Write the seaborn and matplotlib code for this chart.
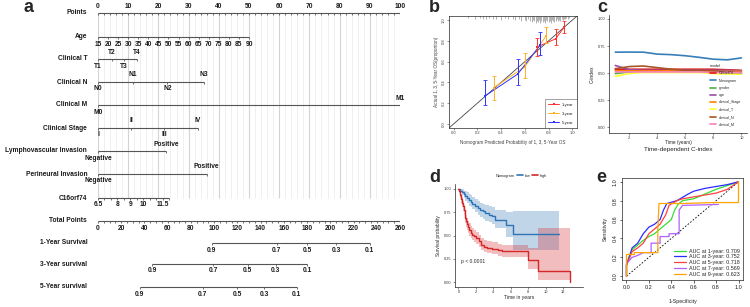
import numpy as np
import pandas as pd
import matplotlib
matplotlib.use("Agg")
import matplotlib.pyplot as plt
from matplotlib.lines import Line2D
import seaborn as sns

W, H = 750, 307

# ---------------- a: nomogram (positions in points, 0-100) ----------------
points_ticks = list(range(0, 101, 10))
age_ticks = list(range(15, 91, 5))
age_max_pts = 50
t_levels = ["T1", "T2", "T3", "T4"]
t_pts = [0, 4.5, 8.6, 13]
n_levels = ["N0", "N1", "N2", "N3"]
n_pts = [0, 11.6, 23, 35]
m_levels = ["M0", "M1"]
m_pts = [0, 100]
stage_levels = ["I", "II", "III", "IV"]
stage_pts = [0, 11, 22, 33]
lvi_levels = ["Negative", "Positive"]
lvi_pts = [0, 22.5]
pni_levels = ["Negative", "Positive"]
pni_pts = [0, 36]
c16_labels = [6.5, 8, 9, 10, 11.5]
c16_ticks = [6.5, 7, 7.5, 8, 8.5, 9, 9.5, 10, 10.5, 11, 11.5, 12]
c16_pts_per_unit = 4.3
total_ticks = list(range(0, 261, 20))
surv_labels = ["0.9", "0.7", "0.5", "0.3", "0.1"]
surv1_total = [98, 154, 180, 205, 234]
surv3_total = [46.5, 99, 129, 153, 180]
surv5_total = [36, 90, 120, 143, 171]

# ---------------- b: calibration ----------------
cal_pred = {"1-year": [0.70, 0.86, 0.93], "3-year": [0.34, 0.60, 0.78], "5-year": [0.265, 0.54, 0.73]}
cal_obs = {"1-year": [0.74, 0.82, 0.93], "3-year": [0.35, 0.55, 0.85], "5-year": [0.27, 0.48, 0.76]}
cal_lo = {"1-year": [0.65, 0.76, 0.88], "3-year": [0.23, 0.44, 0.78], "5-year": [0.18, 0.37, 0.66]}
cal_hi = {"1-year": [0.83, 0.91, 0.99], "3-year": [0.46, 0.68, 0.93], "5-year": [0.42, 0.63, 0.89]}
cal_colors = {"1-year": "#FF3030", "3-year": "#FFB020", "5-year": "#3030FF"}
rug_pred = [0.12, 0.18, 0.22, 0.25, 0.27, 0.30, 0.33, 0.36, 0.40, 0.43, 0.46, 0.50, 0.52,
            0.55, 0.57, 0.60, 0.61, 0.63, 0.64, 0.66, 0.67, 0.68, 0.69, 0.70, 0.71, 0.72,
            0.73, 0.74, 0.75, 0.76, 0.77, 0.78, 0.79, 0.80, 0.81, 0.82, 0.83, 0.84, 0.85,
            0.86, 0.87, 0.88, 0.89, 0.90, 0.91, 0.92, 0.93, 0.94, 0.95, 0.96, 0.97]
rug_len = [0.3, 0.4, 0.3, 0.5, 0.4, 0.3, 0.5, 0.4, 0.6, 0.3, 0.5, 0.4, 0.6, 0.5, 0.7, 0.6,
           0.8, 0.5, 0.7, 0.9, 0.6, 0.8, 1.0, 0.7, 0.9, 0.6, 1.0, 0.8, 0.9, 0.7, 1.0, 0.6,
           0.8, 0.9, 0.7, 1.0, 0.6, 0.8, 0.9, 0.7, 0.5, 0.8, 0.6, 0.7, 0.5, 0.6, 0.4, 0.5,
           0.3, 0.4, 0.3]

# ---------------- c: time-dependent C-index ----------------
cidx_time = [1, 2, 3, 4, 5, 6, 7, 8, 9, 10]
cidx = {
    "C16orf74": [0.535, 0.535, 0.535, 0.535, 0.535, 0.535, 0.535, 0.535, 0.530, 0.525],
    "Nomogram": [0.693, 0.694, 0.693, 0.675, 0.670, 0.660, 0.645, 0.628, 0.622, 0.640],
    "gender": [0.495, 0.510, 0.515, 0.515, 0.515, 0.515, 0.515, 0.510, 0.500, 0.495],
    "age": [0.570, 0.530, 0.525, 0.525, 0.525, 0.525, 0.525, 0.525, 0.525, 0.520],
    "clinical_Stage": [0.520, 0.520, 0.520, 0.520, 0.520, 0.520, 0.518, 0.515, 0.515, 0.515],
    "clinical_T": [0.470, 0.495, 0.505, 0.505, 0.505, 0.505, 0.505, 0.495, 0.490, 0.490],
    "clinical_N": [0.540, 0.560, 0.565, 0.550, 0.535, 0.525, 0.525, 0.520, 0.510, 0.505],
    "clinical_M": [0.510, 0.510, 0.510, 0.510, 0.510, 0.510, 0.510, 0.505, 0.505, 0.505],
}
model_order = list(cidx.keys())

# ---------------- d: Kaplan-Meier ----------------
low_t = [0, 0.2, 0.4, 0.6, 0.8, 1.0, 1.2, 1.4, 1.6, 1.9, 2.2, 2.5, 2.8, 3.1, 3.5, 3.9, 4.2, 5.4, 6.3, 11.6]
low_s = [1.0, 0.98, 0.96, 0.94, 0.92, 0.90, 0.88, 0.86, 0.84, 0.81, 0.79, 0.77, 0.76, 0.74, 0.72, 0.71, 0.67, 0.61, 0.52, 0.52]
low_lo = [1.0, 0.96, 0.93, 0.90, 0.87, 0.85, 0.82, 0.80, 0.78, 0.75, 0.72, 0.70, 0.68, 0.66, 0.64, 0.62, 0.58, 0.48, 0.35, 0.35]
low_hi = [1.0, 1.0, 1.0, 0.98, 0.97, 0.96, 0.94, 0.93, 0.91, 0.89, 0.87, 0.85, 0.84, 0.83, 0.81, 0.80, 0.77, 0.75, 0.76, 0.76]
high_t = [0, 0.1, 0.2, 0.3, 0.4, 0.5, 0.6, 0.7, 0.8, 0.9, 1.0, 1.1, 1.2, 1.4, 1.6, 1.8, 2.0, 2.3, 2.6, 2.9, 3.3, 3.8, 4.5, 5.0, 8.0, 9.1, 12.8]
high_s = [1.0, 0.97, 0.93, 0.89, 0.85, 0.81, 0.77, 0.73, 0.69, 0.65, 0.62, 0.59, 0.56, 0.53, 0.51, 0.49, 0.47, 0.44, 0.40, 0.38, 0.37, 0.36, 0.34, 0.33, 0.24, 0.12, 0.0]
high_lo = [1.0, 0.95, 0.90, 0.85, 0.80, 0.76, 0.72, 0.67, 0.63, 0.59, 0.56, 0.53, 0.50, 0.47, 0.45, 0.43, 0.41, 0.38, 0.34, 0.32, 0.31, 0.30, 0.28, 0.27, 0.14, 0.02, 0.0]
high_hi = [1.0, 0.99, 0.97, 0.94, 0.91, 0.87, 0.83, 0.79, 0.76, 0.72, 0.69, 0.66, 0.63, 0.60, 0.58, 0.56, 0.54, 0.51, 0.47, 0.45, 0.44, 0.43, 0.41, 0.40, 0.37, 0.58, 0.58]
km_colors = {"low": "#2F74B5", "high": "#D62728"}

# ---------------- e: ROC ----------------
roc = {
    "AUC at 1-year: 0.709": ([0, 0, 0.02, 0.05, 0.1, 0.15, 0.2, 0.25, 0.3, 0.35, 0.4, 0.43, 0.46, 0.5, 0.6, 0.7, 0.8, 0.9, 0.95, 1],
                             [0, 0.1, 0.2, 0.28, 0.33, 0.38, 0.42, 0.45, 0.5, 0.55, 0.6, 0.7, 0.76, 0.8, 0.82, 0.87, 0.92, 0.96, 0.98, 1]),
    "AUC at 3-year: 0.752": ([0, 0, 0.03, 0.05, 0.1, 0.15, 0.2, 0.25, 0.3, 0.33, 0.36, 0.45, 0.55, 0.6, 0.7, 0.8, 0.9, 1],
                             [0, 0.12, 0.22, 0.3, 0.35, 0.45, 0.52, 0.55, 0.6, 0.7, 0.77, 0.8, 0.87, 0.9, 0.93, 0.95, 0.97, 1]),
    "AUC at 5-year: 0.718": ([0, 0, 0.03, 0.05, 0.1, 0.15, 0.2, 0.25, 0.3, 0.35, 0.38, 0.45, 0.5, 0.6, 0.7, 0.8, 0.9, 1],
                             [0, 0.13, 0.2, 0.26, 0.3, 0.35, 0.45, 0.5, 0.55, 0.65, 0.75, 0.8, 0.82, 0.84, 0.86, 0.88, 0.92, 1]),
    "AUC at 7-year: 0.569": ([0, 0, 0.05, 0.1, 0.15, 0.22, 0.22, 0.3, 0.3, 0.38, 0.38, 0.47, 0.47, 0.5, 0.82],
                             [0, 0.13, 0.2, 0.22, 0.25, 0.25, 0.35, 0.35, 0.42, 0.42, 0.45, 0.45, 0.7, 0.75, 0.76]),
    "AUC at 9-year: 0.623": ([0, 0, 0.07, 0.07, 0.28, 0.28, 0.29, 0.5, 0.78, 1, 1],
                             [0, 0.23, 0.23, 0.25, 0.25, 0.5, 0.77, 0.77, 0.78, 0.78, 1]),
}
roc_colors = ["#33E033", "#2B2BFF", "#FF4040", "#B060FF", "#FFA500"]

# ---------------- style ----------------
sns.set_style("ticks")
plt.rcParams["font.family"] = ["Liberation Sans", "DejaVu Sans"]
plt.rcParams["axes.linewidth"] = 0.5

fig = plt.figure(figsize=(W / 100, H / 100), dpi=100)


def px_axes(x0, y0, x1, y1):
    return fig.add_axes([x0 / W, 1 - y1 / H, (x1 - x0) / W, (y1 - y0) / H])


def panel_label(x, y, s):
    fig.text(x / W, 1 - y / H, s, fontsize=13, fontweight="bold", ha="center", va="center")


# ---------------- a ----------------
ax = px_axes(98, 0, 400, H)
ax.set_xlim(0, 100)
ax.set_ylim(H, 0)
ax.axis("off")
ax.vlines(np.arange(0, 101, 2), 13, 198, color="#eeeeee", lw=0.6, zorder=0)
ax.vlines(np.arange(0, 101, 10), 13, 198, color="#d4d4d4", lw=0.8, zorder=0)

TXT = dict(fontsize=4.8, fontweight="bold", color="#1a1a1a")
LINE = "#555555"


def nomo_row(name, y, pts, labels, sides, ticks=None):
    ax.text(-3.6, y, name, ha="right", va="center", **TXT)
    tk = pts if ticks is None else ticks
    lo, hi = min(min(pts), min(tk)), max(max(pts), max(tk))
    ax.plot([lo, hi], [y, y], color=LINE, lw=0.8, solid_capstyle="butt")
    ax.vlines(tk, y, y + 1.8, color=LINE, lw=0.6)
    for p, lab, s in zip(pts, labels, sides):
        ax.text(p, y - 7 if s == "up" else y + 7, lab, ha="center", va="center", **TXT)


nomo_row("Points", 13, points_ticks, [str(v) for v in points_ticks], ["up"] * 11,
         ticks=np.arange(0, 101, 2))
age_pts = [(a - age_ticks[0]) / (age_ticks[-1] - age_ticks[0]) * age_max_pts for a in age_ticks]
nomo_row("Age", 37, age_pts, [str(a) for a in age_ticks], ["down"] * len(age_ticks))
nomo_row("Clinical T", 59, t_pts, t_levels, ["down", "up", "down", "up"])
nomo_row("Clinical N", 82, n_pts, n_levels, ["down", "up", "down", "up"])
nomo_row("Clinical M", 105, m_pts, m_levels, ["down", "up"])
nomo_row("Clinical Stage", 128, stage_pts, stage_levels, ["down", "up", "down", "up"])
nomo_row("Lymphovascular Invasion", 151, lvi_pts, lvi_levels, ["down", "up"])
nomo_row("Perineural Invasion", 174, pni_pts, pni_levels, ["down", "up"])
c16_lab_pts = [(v - 6.5) * c16_pts_per_unit for v in c16_labels]
c16_tick_pts = [(v - 6.5) * c16_pts_per_unit for v in c16_ticks]
nomo_row("C16orf74", 198, c16_lab_pts, [f"{v:g}" for v in c16_labels], ["down"] * 5, ticks=c16_tick_pts)
tot_scale = 100 / 260
nomo_row("Total Points", 221, [t * tot_scale for t in total_ticks], [str(t) for t in total_ticks],
         ["down"] * len(total_ticks), ticks=np.arange(0, 261, 5) * tot_scale)
nomo_row("1-Year Survival", 243, [t * tot_scale for t in surv1_total], surv_labels, ["down"] * 5)
nomo_row("3-Year survival", 264, [t * tot_scale for t in surv3_total], surv_labels, ["down"] * 5)
nomo_row("5-Year survival", 287, [t * tot_scale for t in surv5_total], surv_labels, ["down"] * 5)
panel_label(29, 8, "a")

# ---------------- b ----------------
axb = px_axes(449, 16, 577, 128)
axb.axline((0, 0), (1, 1), color="#444444", lw=0.6)
cal_rows = []
for k in cal_pred:
    for p, o in zip(cal_pred[k], cal_obs[k]):
        cal_rows.append({"year": k, "pred": p, "obs": o})
cal_df = pd.DataFrame(cal_rows)
sns.lineplot(data=cal_df, x="pred", y="obs", hue="year", palette=cal_colors, lw=0.7,
             marker="s", markersize=2, markeredgewidth=0, estimator=None, ax=axb)
for k in cal_pred:
    o = np.array(cal_obs[k])
    axb.errorbar(cal_pred[k], o, yerr=[o - np.array(cal_lo[k]), np.array(cal_hi[k]) - o],
                 fmt="none", ecolor=cal_colors[k], elinewidth=0.7, capsize=1.2, capthick=0.6)
axb.vlines(rug_pred, 1.0 - np.array(rug_len) * 0.06, 1.0, transform=axb.get_xaxis_transform(),
           color="#777777", lw=0.4)
axb.set_xlim(-0.04, 1.04)
axb.set_ylim(-0.04, 1.04)
axb.set_xticks([0, 0.2, 0.4, 0.6, 0.8, 1.0])
axb.set_yticks([0, 0.2, 0.4, 0.6, 0.8, 1.0])
axb.set_xticklabels(["0.0", "0.2", "0.4", "0.6", "0.8", "1.0"])
axb.set_yticklabels(["0.0", "0.2", "0.4", "0.6", "0.8", "1.0"], rotation=90, va="center")
axb.tick_params(labelsize=3, colors="#444444", length=1.5, width=0.4, pad=1)
axb.set_xlabel("Nomogram Predicted Probability of 1, 3, 5-Year OS", fontsize=3.3, color="#444444", labelpad=3)
axb.set_ylabel("Actual 1, 3, 5-Year OS(proportion)", fontsize=3.3, color="#444444", labelpad=2)
lg = axb.legend(loc="lower right", fontsize=3, frameon=True, fancybox=False, edgecolor="#333333",
                borderpad=0.8, handlelength=2.5, labelspacing=1.2, borderaxespad=0)
lg.get_frame().set_linewidth(0.4)
panel_label(434, 8, "b")

# ---------------- c ----------------
axc = px_axes(609, 15, 747, 133)
c_df = pd.DataFrame([{"time": t, "cindex": v, "model": m}
                     for m in model_order for t, v in zip(cidx_time, cidx[m])])
sns.lineplot(data=c_df, x="time", y="cindex", hue="model", hue_order=model_order,
             palette="Set1", lw=1.2, estimator=None, ax=axc)
axc.set_xlim(0.55, 10.4)
axc.set_ylim(-0.055, 1.037)
axc.set_xticks([2, 4, 6, 8, 10])
axc.set_yticks([0, 0.25, 0.5, 0.75, 1.0])
axc.set_yticklabels(["0.00", "0.25", "0.50", "0.75", "1.00"])
axc.tick_params(labelsize=2.8, colors="#333333", length=1.5, width=0.4, pad=1)
sns.despine(ax=axc)
axc.set_xlabel("Time (years)", fontsize=3.4, labelpad=0)
axc.set_ylabel("C-index", fontsize=3.6, labelpad=2)
lg = axc.legend(title="model", loc="lower right", bbox_to_anchor=(0.98, 0.03), fontsize=2.6,
                title_fontsize=3, frameon=False, handlelength=1.6, labelspacing=0.9)
for h in lg.get_lines():
    h.set_linewidth(1.2)
lg._legend_box.align = "left"
fig.text(678 / W, 1 - 149.5 / H, "Time-dependent C-index", fontsize=4.5, color="#222222",
         ha="center", va="center")
panel_label(602, 8, "c")

# ---------------- d ----------------
axd = px_axes(455, 184, 583, 287)
km_df = pd.concat([pd.DataFrame({"time": low_t, "surv": low_s, "group": "low"}),
                   pd.DataFrame({"time": high_t, "surv": high_s, "group": "high"})])
axd.fill_between(low_t, low_lo, low_hi, step="post", color=km_colors["low"], alpha=0.3, lw=0)
axd.fill_between(high_t, high_lo, high_hi, step="post", color=km_colors["high"], alpha=0.3, lw=0)
sns.lineplot(data=km_df, x="time", y="surv", hue="group", palette=km_colors, estimator=None,
             drawstyle="steps-post", lw=1.0, legend=False, ax=axd)
axd.set_xlim(-0.4, 14.3)
axd.set_ylim(-0.05, 1.05)
axd.set_xticks([0, 2, 4, 6, 8, 10, 12])
axd.set_yticks([0, 0.25, 0.5, 0.75, 1.0])
axd.set_yticklabels(["0.00", "0.25", "0.50", "0.75", "1.00"])
axd.tick_params(labelsize=2.8, colors="#333333", length=1.5, width=0.4, pad=1)
sns.despine(ax=axd)
axd.set_xlabel("Time in years", fontsize=3.6, labelpad=0.5)
axd.set_ylabel("Survival probability", fontsize=3.4, labelpad=2)
axd.text(0.3, 0.22, "p < 0.0001", fontsize=3.6, ha="left", va="center")
handles = [Line2D([], [], color="none"),
           Line2D([], [], color=km_colors["low"], lw=1.2),
           Line2D([], [], color=km_colors["high"], lw=1.2)]
axd.legend(handles, ["Nomogram", "low", "high"], ncol=3, loc="center", bbox_to_anchor=(0.49, 1.08),
           fontsize=2.8, frameon=False, handlelength=1.5, columnspacing=0.6, handletextpad=0.4)
panel_label(435, 177, "d")

# ---------------- e ----------------
axe = px_axes(622, 178, 743, 280)
axe.plot([0, 1], [0, 1], color="black", lw=0.6, ls=(0, (2, 2)))
for (lab, (fx, tx)), col in zip(roc.items(), roc_colors):
    sns.lineplot(x=fx, y=tx, color=col, lw=0.9, sort=False, estimator=None, label=lab, ax=axe)
axe.set_xlim(-0.04, 1.04)
axe.set_ylim(-0.04, 1.04)
axe.set_xticks([0, 0.2, 0.4, 0.6, 0.8, 1.0])
axe.set_yticks([0, 0.2, 0.4, 0.6, 0.8, 1.0])
axe.set_xticklabels(["0.0", "0.2", "0.4", "0.6", "0.8", "1.0"])
axe.set_yticklabels(["0.0", "0.2", "0.4", "0.6", "0.8", "1.0"], rotation=90, va="center")
axe.tick_params(labelsize=4, colors="#222222", length=1.8, width=0.5, pad=1.5)
axe.set_xlabel("1-Specificity", fontsize=3.8, labelpad=7)
axe.set_ylabel("Sensitivity", fontsize=3.8, labelpad=3)
axe.legend(loc="lower right", fontsize=3.9, frameon=False, handlelength=2.2, labelspacing=0.15,
           borderaxespad=0.2, handletextpad=0.5)
panel_label(601, 177, "e")

fig.savefig("out.png", dpi=100)
